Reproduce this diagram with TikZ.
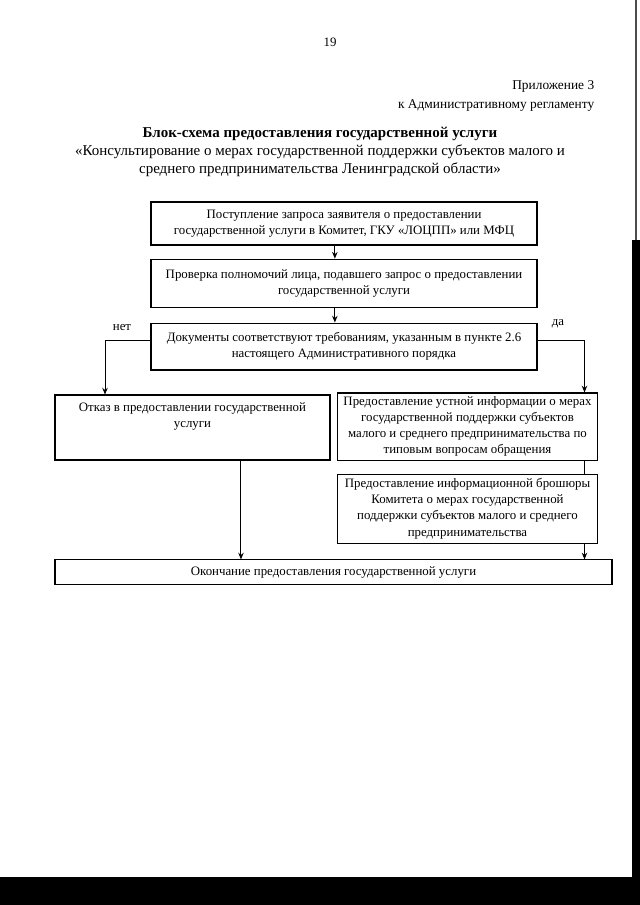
\documentclass[tikz,border=0pt]{standalone}
\usepackage{fontspec}
\setmainfont{Liberation Serif}
\usetikzlibrary{positioning,arrows.meta,calc}

\begin{document}
\begin{tikzpicture}[
      x=0.328mm, y=-0.328mm,
      every node/.style={font=\fontsize{12}{15}\selectfont, align=center},
      box/.style={draw, line width=1pt, inner sep=2pt},
      mainbox/.style={box, minimum width=126.6mm},
      sidebox/.style={box, minimum width=85mm},
      arr/.style={->, >={Stealth[length=2.2mm,width=1.8mm]}, line width=0.9pt},
      lnk/.style={line width=0.9pt}
  ]
    \useasboundingbox (0,0) rectangle (640,905);
    % scan borders
    \fill[black] (0,877) rectangle (640,905);
    \fill[black] (632,240) rectangle (640,877);
    \draw[line width=1pt, black!70] (636,0) -- (636,240);
    % header
    \node (page) at (330,42) {19};
    \node[anchor=east, align=right, font=\fontsize{12.5}{17.5}\selectfont] (appx) at (598,96)
      {Приложение 3\\к Административному регламенту};
    \node[font=\fontsize{14}{16.6}\selectfont] (title) at (320,152)
      {\textbf{Блок-схема предоставления государственной услуги}\\
       «Консультирование о мерах государственной поддержки субъектов малого и\\
       среднего предпринимательства Ленинградской области»};
    % main column
    \node[mainbox, minimum height=14.1mm] (in) at (344,223.5)
      {Поступление запроса заявителя о предоставлении\\государственной услуги в Комитет, ГКУ «ЛОЦПП» или МФЦ};
    \node[mainbox, minimum height=15.7mm, below=4.3mm of in] (check)
      {Проверка полномочий лица, подавшего запрос о предоставлении\\государственной услуги};
    \node[mainbox, minimum height=15.4mm, below=4.9mm of check] (docs)
      {Документы соответствуют требованиям, указанным в пункте 2.6\\настоящего Административного порядка};
    \node (no) at (122,328) {нет};
    \node (yes) at (558,324) {да};
    % branches
    \node[box, minimum width=90.2mm, minimum height=21.3mm,
      label={[anchor=north, inner sep=0pt, yshift=-2.6mm]north:Отказ в предоставлении государственной\\услуги}]
      (refuse) at (192.5,427.5) {};
    \node[sidebox, minimum height=22mm] (oral) at (467.5,426.5)
      {Предоставление устной информации о мерах\\государственной поддержки субъектов\\малого и среднего предпринимательства по\\типовым вопросам обращения};
    \node[sidebox, minimum height=22.6mm, below=4.3mm of oral] (brochure)
      {Предоставление информационной брошюры\\Комитета о мерах государственной\\поддержки субъектов малого и среднего\\предпринимательства};
    \node[box, minimum width=182.7mm, minimum height=7.9mm] (end) at (333.5,572)
      {Окончание предоставления государственной услуги};
    % connectors
    \draw[arr] ([xshift=-3mm]in.south) -- ([xshift=-3mm]check.north);
    \draw[arr] ([xshift=-3mm]check.south) -- ([xshift=-3mm]docs.north);
    \draw[arr] ([yshift=2.1mm]docs.west) -| ([xshift=-28.7mm]refuse.north);
    \draw[arr] ([yshift=2.1mm]docs.east) -| ([xshift=-4.3mm]oral.north east);
    \draw[lnk] ([xshift=-4.3mm]oral.south east) -- ([xshift=-4.3mm]brochure.north east);
    \draw[arr] ([xshift=-4.3mm]brochure.south east) -- ([xshift=-4.3mm]brochure.south east |- end.north);
    \draw[arr] ([xshift=15.9mm]refuse.south) -- ([xshift=15.9mm]refuse.south |- end.north);
  \end{tikzpicture}
\end{document}
